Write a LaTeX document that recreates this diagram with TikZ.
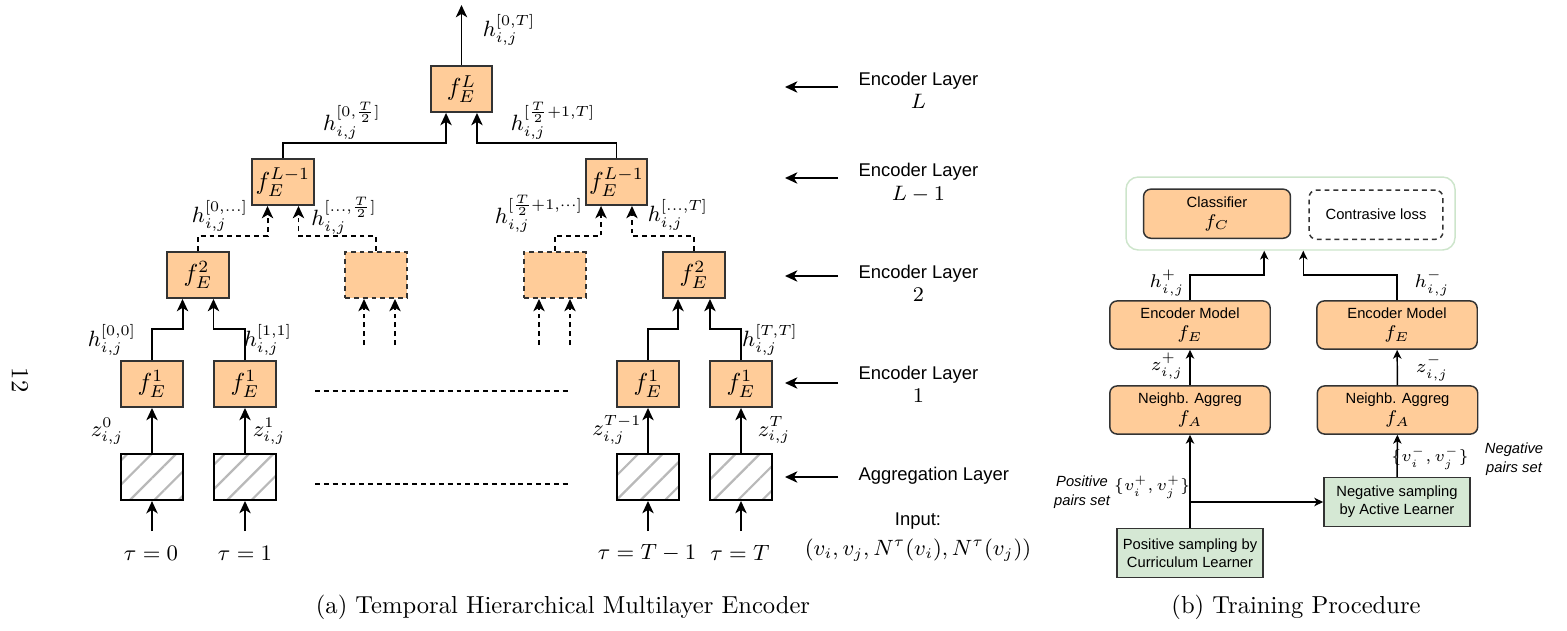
\documentclass[tikz,border=0pt]{standalone}
\usepackage{fix-cm}
\usepackage{fontspec}
\setsansfont{Liberation Sans}
\usetikzlibrary{arrows.meta,patterns.meta}
\definecolor{encorange}{HTML}{FFCC99}
\definecolor{samplegreen}{HTML}{D5E8D4}
\definecolor{groupgreen}{HTML}{CDE5CB}
\definecolor{edgegray}{HTML}{333333}
\tikzset{
  dsh/.style={dash pattern=on 2pt off 1.6pt},
  encbox/.style={draw=edgegray, line width=0.8pt, fill=encorange, minimum width=25.2pt, minimum height=18.7pt, inner sep=0pt, font=\fontsize{10}{12}\selectfont},
  ghostbox/.style={encbox, dsh},
  aggbox/.style={draw=black, line width=0.8pt, pattern={Lines[angle=45,distance=7pt,line width=0.9pt]}, pattern color=gray!55, minimum width=25.2pt, minimum height=18.7pt, inner sep=0pt},
  arr/.style={-{Stealth[length=5pt,width=4.6pt,inset=1.4pt]}, line width=0.8pt},
  mlbl/.style={font=\fontsize{9}{11}\selectfont, inner sep=0pt},
  lyr/.style={font=\fontsize{7.5}{9.5}\selectfont\sffamily, align=center, inner sep=0pt, anchor=west},
  trbox/.style={draw=edgegray, line width=0.6pt, fill=encorange, rounded corners=3pt, minimum width=65.3pt, minimum height=19.6pt, inner sep=0pt, align=center, font=\fontsize{6}{8}\selectfont\sffamily},
  smpbox/.style={trbox, fill=samplegreen, rounded corners=0pt, minimum width=59.5pt, minimum height=19.8pt, font=\fontsize{6}{7.2}\selectfont\sffamily},
  arrS/.style={-{Stealth[length=3.6pt,width=3.4pt,inset=1pt]}, line width=0.6pt},
  slbl/.style={font=\fontsize{7.5}{9}\selectfont, inner sep=0pt},
  note/.style={font=\fontsize{6}{7.5}\selectfont\sffamily\itshape, align=center, inner sep=0pt},
}
\begin{document}
\begin{tikzpicture}[x=0.407pt,y=-0.407pt]
    \useasboundingbox (0,0) rectangle (1567,630);

    % (a) encoder tree
    \node[encbox] (fEL) at (461.5,89) {$f_E^L$};
    \node[encbox] (fLa) at (283,182) {$f_E^{L-1}$};
    \node[encbox] (fLb) at (616.5,182) {$f_E^{L-1}$};
    \node[encbox] (f2a) at (198,275) {$f_E^2$};
    \node[ghostbox] (gA) at (376,275) {};
    \node[ghostbox] (gB) at (554.7,275) {};
    \node[encbox] (f2b) at (694,275) {$f_E^2$};
    \node[encbox] (f1a) at (152,384) {$f_E^1$};
    \node[encbox] (f1b) at (245,384) {$f_E^1$};
    \node[encbox] (f1c) at (648,384) {$f_E^1$};
    \node[encbox] (f1d) at (741,384) {$f_E^1$};
    \node[aggbox] (agA) at (152,477) {};
    \node[aggbox] (agB) at (245,477) {};
    \node[aggbox] (agC) at (648,477) {};
    \node[aggbox] (agD) at (741,477) {};

    \node[mlbl] (tauA) at (151,553) {$\tau=0$};
    \node[mlbl] (tauB) at (245,553) {$\tau=1$};
    \node[mlbl] (tauC) at (647,553) {$\tau=T-1$};
    \node[mlbl] (tauD) at (740,553) {$\tau=T$};

    \coordinate (inA) at (152,531);
    \coordinate (inB) at (245,531);
    \coordinate (inC) at (648,531);
    \coordinate (inD) at (741,531);
    \draw[arr] (inA) -- (agA);
    \draw[arr] (inB) -- (agB);
    \draw[arr] (inC) -- (agC);
    \draw[arr] (inD) -- (agD);
    \draw[arr] (agA) -- (f1a);
    \draw[arr] (agB) -- (f1b);
    \draw[arr] (agC) -- (f1c);
    \draw[arr] (agD) -- (f1d);

    \draw[arr] (f1a.north) -- ++(0,-31) -| ([xshift=-6.3pt]f2a.south);
    \draw[arr] (f1b.north) -- ++(0,-31) -| ([xshift=6.3pt]f2a.south);
    \draw[arr] (f1c.north) -- ++(0,-31) -| ([xshift=-6.5pt]f2b.south);
    \draw[arr] (f1d.north) -- ++(0,-31) -| ([xshift=6.5pt]f2b.south);

    \coordinate (gAin1) at (364,345);
    \coordinate (gAin2) at (395,345);
    \coordinate (gBin1) at (539,345);
    \coordinate (gBin2) at (570,345);
    \draw[arr,dsh] (gAin1) -- (gAin1 |- gA.south);
    \draw[arr,dsh] (gAin2) -- (gAin2 |- gA.south);
    \draw[arr,dsh] (gBin1) -- (gBin1 |- gB.south);
    \draw[arr,dsh] (gBin2) -- (gBin2 |- gB.south);

    \draw[arr,dsh] (f2a.north) -- ++(0,-15) -| ([xshift=-6.3pt]fLa.south);
    \draw[arr,dsh] (gA.north) -- ++(0,-15) -| ([xshift=6.3pt]fLa.south);
    \draw[arr,dsh] (gB.north) -- ++(0,-15) -| ([xshift=-6.3pt]fLb.south);
    \draw[arr,dsh] (f2b.north) -- ++(0,-15) -| ([xshift=6.3pt]fLb.south);

    \draw[arr] (fLa.north) -- ++(0,-15) -| ([xshift=-6.3pt]fEL.south);
    \draw[arr] (fLb.north) -- ++(0,-15) -| ([xshift=6.3pt]fEL.south);
    \coordinate (outL) at (461.5,5);
    \draw[arr] (fEL) -- (outL);

    % dots between the columns
    \draw[dsh, line width=0.6pt] (315,391) -- (571,391);
    \draw[dsh, line width=0.6pt] (315,484) -- (571,484);

    \node[mlbl] (hTop) at (509,30) {$h_{i,j}^{[0,T]}$};
    \node[mlbl] (hL1) at (352,121) {$h_{i,j}^{[0,\frac{T}{2}]}$};
    \node[mlbl] (hL2) at (553,121) {$h_{i,j}^{[\frac{T}{2}+1,T]}$};
    \node[mlbl] (hA1) at (220,216) {$h_{i,j}^{[0,\dots]}$};
    \node[mlbl] (hA2) at (344,216) {$h_{i,j}^{[\dots,\frac{T}{2}]}$};
    \node[mlbl] (hB1) at (539,214) {$h_{i,j}^{[\frac{T}{2}+1,\cdots]}$};
    \node[mlbl] (hB2) at (678,215) {$h_{i,j}^{[\dots,T]}$};
    \node[mlbl] (h00) at (112,340) {$h_{i,j}^{[0,0]}$};
    \node[mlbl] (h11) at (268,340) {$h_{i,j}^{[1,1]}$};
    \node[mlbl] (hTT) at (770,340) {$h_{i,j}^{[T,T]}$};
    \node[mlbl] (zA) at (107,431) {$z_{i,j}^{0}$};
    \node[mlbl] (zB) at (269,431) {$z_{i,j}^{1}$};
    \node[mlbl] (zC) at (617,430) {$z_{i,j}^{T-1}$};
    \node[mlbl] (zD) at (774,430) {$z_{i,j}^{T}$};

    % layer names
    \node[lyr] (lyrL) at (858,90) {Encoder Layer\\{\fontsize{8.5}{9.5}\selectfont$L$}};
    \node[lyr] (lyrL1) at (858,183) {Encoder Layer\\{\fontsize{8.5}{9.5}\selectfont$L-1$}};
    \node[lyr] (lyr2) at (858,283) {Encoder Layer\\{\fontsize{8.5}{9.5}\selectfont$2$}};
    \node[lyr] (lyr1) at (858,384) {Encoder Layer\\{\fontsize{8.5}{9.5}\selectfont$1$}};
    \node[lyr] (lyrAg) at (858,476) {Aggregation Layer};
    \node[lyr, anchor=center] (inpt) at (918,537) {Input:\\[3pt]{\fontsize{9}{11}\selectfont$(v_i,v_j,N^{\tau}(v_i),N^{\tau}(v_j))$}};
    \coordinate (lyrLt) at (838,87);
    \coordinate (lyrL1t) at (838,178);
    \coordinate (lyr2t) at (838,276);
    \coordinate (lyr1t) at (838,383);
    \coordinate (lyrAgt) at (838,477);
    \draw[arr] (lyrLt) -- ++(-53,0);
    \draw[arr] (lyrL1t) -- ++(-53,0);
    \draw[arr] (lyr2t) -- ++(-53,0);
    \draw[arr] (lyr1t) -- ++(-53,0);
    \draw[arr] (lyrAgt) -- ++(-53,0);

    % (b) training procedure
    \node[draw=groupgreen, line width=0.6pt, rounded corners=5pt, minimum width=133.9pt, minimum height=29.7pt] (grp) at (1290.5,213.5) {};
    \node[trbox, minimum width=59.8pt, minimum height=20pt] (cls) at (1217,213.7) {Classifier\\{\fontsize{7.5}{8}\selectfont$f_C$}};
    \node[trbox, fill=white, dsh, minimum width=54.5pt, minimum height=20pt] (ctr) at (1376,214.7) {Contrasive loss};
    \node[trbox] (encP) at (1190,325) {Encoder Model\\{\fontsize{7.5}{8}\selectfont$f_E$}};
    \node[trbox] (encN) at (1397,325) {Encoder Model\\{\fontsize{7.5}{8}\selectfont$f_E$}};
    \node[trbox] (aggP) at (1190,410) {Neighb. Aggreg\\{\fontsize{7.5}{8}\selectfont$f_A$}};
    \node[trbox] (aggN) at (1397.5,410) {Neighb. Aggreg\\{\fontsize{7.5}{8}\selectfont$f_A$}};
    \node[smpbox] (posS) at (1190,553) {Positive sampling by\\Curriculum Learner};
    \node[smpbox] (negS) at (1397,502) {Negative sampling\\by Active Learner};

    \draw[arrS] (posS) -- (aggP);
    \draw[arrS] (posS.north |- negS.west) -- (negS.west);
    \draw[arrS] (negS) -- (aggN);
    \draw[arrS] (aggP) -- (encP);
    \draw[arrS] (aggN) -- (encN);
    \draw[arrS] (encP.north) -- ++(0,-25) -| ([xshift=-10.7pt]grp.south);
    \draw[arrS] (encN.north) -- ++(0,-25) -| ([xshift=5.2pt]grp.south);

    \node[slbl] (hP) at (1167,283) {$h_{i,j}^{+}$};
    \node[slbl] (hN) at (1432,283) {$h_{i,j}^{-}$};
    \node[slbl] (zP) at (1167,366) {$z_{i,j}^{+}$};
    \node[slbl] (zN) at (1432,368) {$z_{i,j}^{-}$};
    \node[slbl, font=\fontsize{6.5}{8}\selectfont] (vP) at (1152,487) {$\{v_i^+,v_j^+\}$};
    \node[slbl, font=\fontsize{6.5}{8}\selectfont] (vN) at (1430,458) {$\{v_i^-,v_j^-\}$};
    \node[note] (posTxt) at (1082,492) {Positive\\pairs set};
    \node[note] (negTxt) at (1514,459) {Negative\\pairs set};

    % captions
    \node[font=\fontsize{10}{12}\selectfont] (capA) at (563,607) {(a) Temporal Hierarchical Multilayer Encoder};
    \node[font=\fontsize{10}{12}\selectfont] (capB) at (1296,607) {(b) Training Procedure};
    \node[rotate=-90, font=\fontsize{10}{12}\selectfont] (pgno) at (20,380) {12};
\end{tikzpicture}
\end{document}
